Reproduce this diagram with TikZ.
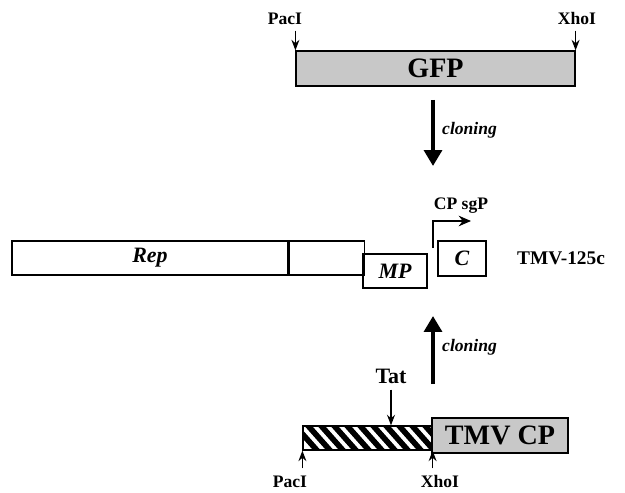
\documentclass[tikz,border=0pt]{standalone}
\usepackage{fontspec}
\setmainfont{Liberation Serif}
\definecolor{boxgray}{RGB}{200,200,200}
\usetikzlibrary{arrows.meta,calc}

\begin{document}
\begin{tikzpicture}[x=0.02cm,y=-0.02cm,
  gene/.style={draw,line width=0.7pt,inner sep=0pt,font=\bfseries},
  sitelabel/.style={font=\bfseries\fontsize{10}{12}\selectfont,text height=1.6ex,text depth=0pt},
  sitearrow/.style={-{Stealth[length=6pt,width=4.5pt]},line width=0.8pt},
  cloningarrow/.style={-{Triangle[length=9pt,width=10pt]},line width=2.6pt},
  cloninglabel/.style={anchor=west,font=\bfseries\itshape\fontsize{10}{12}\selectfont}]
  \useasboundingbox (0,0) rectangle (625,493);

  % GFP insert
  \node[gene,fill=boxgray,minimum width=5.58cm,minimum height=0.70cm,
    font=\bfseries\fontsize{16}{18}\selectfont] (gfp) at (435.5,68.5) {GFP};
  \node[sitelabel] (pacItop) at (285,18) {PacI};
  \node[sitelabel] (xhoItop) at (577,18) {XhoI};
  \draw[sitearrow] (pacItop.south -| gfp.north west) -- (gfp.north west);
  \draw[sitearrow] (xhoItop.south -| gfp.north east) -- (gfp.north east);

  \coordinate (cloneA) at (433,100);
  \coordinate (cloneB) at (433,166);
  \draw[cloningarrow] (cloneA) -- (cloneB);
  \node[cloninglabel] at (436,130) {cloning};

  % TMV-125c vector
  \node[gene,minimum width=5.52cm,minimum height=0.68cm,
    font=\bfseries\itshape\fontsize{12.5}{14}\selectfont] (rep) at (150,258) {Rep};
  \node[gene,minimum width=1.50cm,minimum height=0.68cm,anchor=west] (repend) at (rep.east) {};
  \node[gene,minimum width=1.28cm,minimum height=0.68cm,
    font=\bfseries\itshape\fontsize{12.5}{14}\selectfont] (mp) at (395,271) {MP};
  \node[gene,minimum width=0.96cm,minimum height=0.70cm,
    font=\bfseries\itshape\fontsize{12.5}{14}\selectfont] (cp) at (462,258.5) {C};
  \coordinate (sgp) at (433,248);
  \draw[line width=1pt,-{Stealth[length=7pt,width=6pt]}] (sgp) |- ++(38,-27);
  \node[sitelabel] at (461,203) {CP sgP};
  \node[font=\bfseries\fontsize{11}{13}\selectfont] (vector) at (561,258) {TMV-125c};

  \coordinate (cloneC) at (433,384);
  \coordinate (cloneD) at (433,316);
  \draw[cloningarrow] (cloneC) -- (cloneD);
  \node[cloninglabel] at (436,347) {cloning};

  % Tat - TMV CP fusion
  \node[gene,minimum width=2.58cm,minimum height=0.48cm] (tatbox) at (367.5,438) {};
  \begin{scope}
    \clip (tatbox.south west) rectangle (tatbox.north east);
    \foreach \i in {0,...,11} {
      \draw[line width=3.2pt] (290+\i*13,420) -- ++(32,36);
    }
  \end{scope}
  \draw[line width=0.7pt] (tatbox.south west) rectangle (tatbox.north east);
  \node[gene,fill=boxgray,minimum width=2.72cm,minimum height=0.70cm,
    font=\bfseries\fontsize{16}{18}\selectfont] (tmvcp) at (500,435.5) {TMV CP};
  \node[font=\bfseries\fontsize{12.5}{14}\selectfont] (tat) at (391,376) {Tat};
  \draw[sitearrow] (tat.south) -- (tat.south |- tatbox.north);
  \node[sitelabel] (pacIbot) at (290,481) {PacI};
  \node[sitelabel] (xhoIbot) at (440,481) {XhoI};
  \draw[sitearrow] (pacIbot.north -| tatbox.south west) -- (tatbox.south west);
  \draw[sitearrow] (xhoIbot.north -| tatbox.south east) -- (tatbox.south east);
\end{tikzpicture}
\end{document}
